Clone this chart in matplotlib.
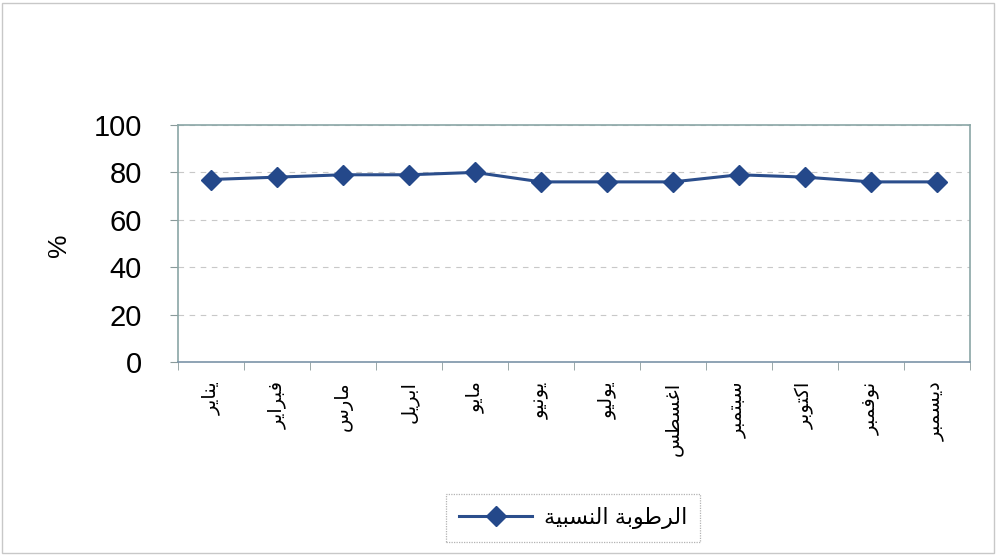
import matplotlib
matplotlib.use("Agg")
import matplotlib.pyplot as plt
from matplotlib.patches import Rectangle
from matplotlib.ticker import FixedLocator, NullFormatter

# ---- data ----
months = ["يناير", "فبراير", "مارس", "ابريل", "مايو", "يونيو",
          "يوليو", "اغسطس", "سبتمبر", "اكتوبر", "نوفمبر", "ديسمبر"]
humidity = [77, 78, 79, 79, 80, 76, 76, 76, 79, 78, 76, 76]
series_name = "الرطوبة النسبية"
y_ticks = [0, 20, 40, 60, 80, 100]
y_label = "%"

# ---- minimal Arabic shaping (presentation forms) ----
FORMS = {  # isolated, final, initial, medial
    "ا": (0xFE8D, 0xFE8E, None, None),
    "ب": (0xFE8F, 0xFE90, 0xFE91, 0xFE92),
    "ة": (0xFE93, 0xFE94, None, None),
    "ت": (0xFE95, 0xFE96, 0xFE97, 0xFE98),
    "د": (0xFEA9, 0xFEAA, None, None),
    "ر": (0xFEAD, 0xFEAE, None, None),
    "س": (0xFEB1, 0xFEB2, 0xFEB3, 0xFEB4),
    "ط": (0xFEC1, 0xFEC2, 0xFEC3, 0xFEC4),
    "غ": (0xFECD, 0xFECE, 0xFECF, 0xFED0),
    "ف": (0xFED1, 0xFED2, 0xFED3, 0xFED4),
    "ك": (0xFED9, 0xFEDA, 0xFEDB, 0xFEDC),
    "ل": (0xFEDD, 0xFEDE, 0xFEDF, 0xFEE0),
    "م": (0xFEE1, 0xFEE2, 0xFEE3, 0xFEE4),
    "ن": (0xFEE5, 0xFEE6, 0xFEE7, 0xFEE8),
    "و": (0xFEED, 0xFEEE, None, None),
    "ي": (0xFEF1, 0xFEF2, 0xFEF3, 0xFEF4),
}


def shape(text):
    out = []
    chars = list(text)
    for i, c in enumerate(chars):
        if c not in FORMS:
            out.append(c)
            continue
        prev = chars[i - 1] if i > 0 else None
        nxt = chars[i + 1] if i + 1 < len(chars) else None
        join_prev = prev in FORMS and FORMS[prev][2] is not None
        join_next = nxt in FORMS and FORMS[c][2] is not None
        iso, fin, ini, med = FORMS[c]
        if join_prev and join_next:
            g = med
        elif join_prev:
            g = fin
        elif join_next:
            g = ini
        else:
            g = iso
        out.append(chr(g))
    return "".join(reversed(out))


plt.rcParams["font.family"] = ["Liberation Sans", "DejaVu Sans"]

W, H = 997, 555
fig = plt.figure(figsize=(W / 100, H / 100), dpi=100)
fig.patch.set_facecolor("white")
fig.patches.append(Rectangle((2 / W, 2 / H), (W - 5) / W, (H - 5) / H,
                             transform=fig.transFigure, fill=False,
                             edgecolor="#c8c8c8", linewidth=1.0))

left, right, top, bottom = 178, 970, 125, 362
ax = fig.add_axes([left / W, 1 - bottom / H, (right - left) / W, (bottom - top) / H])

x = list(range(len(months)))
line_color = "#2B4E8C"
ax.plot(x, humidity, color=line_color, linewidth=2.2, marker="D",
        markersize=10, markerfacecolor="#24488A", markeredgecolor="#24488A",
        label=shape(series_name), zorder=3)

ax.set_xlim(-0.5, len(months) - 0.5)
ax.set_ylim(0, 100)
ax.set_yticks(y_ticks)
ax.set_yticklabels([str(v) for v in y_ticks], fontsize=21)
ax.yaxis.grid(True, linestyle=(0, (5, 5)), color="#c8c8c8", linewidth=0.8)
ax.set_axisbelow(True)

ax.set_xticks(x)
ax.set_xticklabels([shape(m) for m in months], rotation=90, fontsize=14,
                   va="top", ha="center")
ax.tick_params(axis="x", which="major", length=0, pad=14)
ax.xaxis.set_minor_locator(FixedLocator([i - 0.5 for i in range(len(months) + 1)]))
ax.xaxis.set_minor_formatter(NullFormatter())
ax.tick_params(axis="x", which="minor", length=6, color="#8a9a9a", direction="out")
ax.tick_params(axis="y", length=6, color="#8a9a9a", direction="out", pad=20)

for s in ax.spines.values():
    s.set_color("#8aa6a6")
    s.set_linewidth(1.2)
ax.spines["bottom"].set_color("#7c94a8")

fig.text(59 / W, 1 - 245 / H, y_label, rotation=90, fontsize=19,
         ha="center", va="center")

leg = fig.legend(loc="center", bbox_to_anchor=(573 / W, 1 - 518 / H),
                 fontsize=16, frameon=True, fancybox=False,
                 handlelength=3.3, borderpad=0.6, handletextpad=0.5)
leg.get_frame().set_edgecolor("#a0a0a0")
leg.get_frame().set_linestyle((0, (1, 1)))
leg.get_frame().set_linewidth(0.9)

fig.savefig("out.png", dpi=100, facecolor="white")
